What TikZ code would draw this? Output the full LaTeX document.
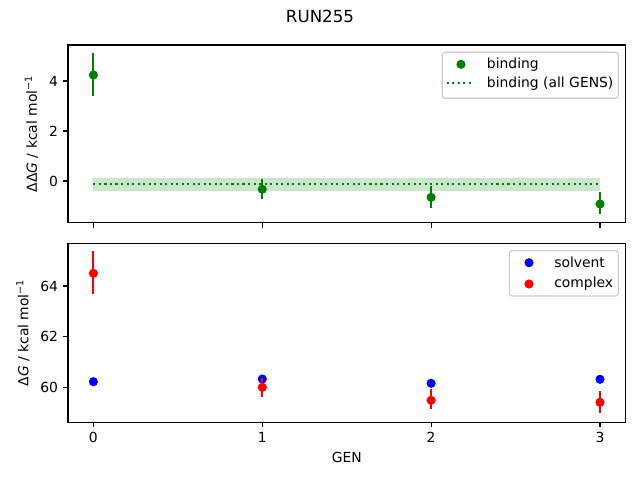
\documentclass[tikz,border=0pt]{standalone}
\usepackage{fontspec}
\setmainfont{DejaVu Sans}
\begin{document}
\begin{tikzpicture}[x=0.72pt,y=-0.72pt,
  axisline/.style={line width=0.8pt,black},
  tickmark/.style={line width=0.8pt,black},
  ticklab/.style={font=\fontsize{10}{12}\selectfont,inner sep=0pt},
  errbar/.style={line width=1.5pt},
  dotmark/.style={circle,inner sep=0pt,minimum size=6.6pt},
  legbox/.style={draw={rgb,255:red,204;green,204;blue,204},line width=0.8pt,fill=white,fill opacity=0.8,rounded corners=2pt},
  labtext/.style={font=\fontsize{10}{12}\selectfont,inner sep=0pt}]
\definecolor{mgreen}{RGB}{0,128,0}
\definecolor{mblue}{RGB}{0,0,255}
\definecolor{mred}{RGB}{255,0,0}
\definecolor{bandgreen}{RGB}{204,230,204}
\useasboundingbox (0,0) rectangle (640,480);
% title
\node[font=\fontsize{12}{14}\selectfont,inner sep=0pt] (title) at (320,16.7) {RUN255};
% ===== top panel =====
\fill[bandgreen] (93.4,178.3) rectangle (600,190.7);
\draw[mgreen,line width=1.5pt,dash pattern=on 1.5pt off 2.475pt] (93.4,184) -- (600,184);
% error bars
\draw[errbar,mgreen] (93.4,53.3) -- (93.4,95.7);
\draw[errbar,mgreen] (262.3,179) -- (262.3,198.7);
\draw[errbar,mgreen] (431.1,186) -- (431.1,207.7);
\draw[errbar,mgreen] (600,192.3) -- (600,214);
\node[dotmark,fill=mgreen] (b0) at (93.4,75) {};
\node[dotmark,fill=mgreen] (b1) at (262.3,189.3) {};
\node[dotmark,fill=mgreen] (b2) at (431.1,197.3) {};
\node[dotmark,fill=mgreen] (b3) at (600,204) {};
% axes frame
\draw[axisline] (68,45) rectangle (625.7,222.7);
% y ticks
\foreach \yy/\lab in {81/4,131/2,181/0}{
  \draw[tickmark] (68,\yy) -- (63.1,\yy);
  \node[ticklab,anchor=east] at (58.3,\yy) {\lab};
}
% x ticks
\foreach \xx in {93.4,262.3,431.1,600}{
  \draw[tickmark] (\xx,222.7) -- (\xx,227.6);
}
% y label
\node[labtext,rotate=90] (ylab1) at (31.5,133.9) {ΔΔ\textit{G} / kcal mol\textsuperscript{−1}};
% legend
\draw[legbox] (442.3,52.3) rectangle (618.3,98.3);
\node[dotmark,fill=mgreen] (lg1) at (461,64.3) {};
\node[labtext,anchor=west] (lt1) at (486.7,64.3) {binding};
\draw[mgreen,line width=1.5pt,dash pattern=on 1.5pt off 2.475pt] (446.7,83.3) -- (474.3,83.3);
\node[labtext,anchor=west] (lt2) at (486.7,83.3) {binding (all GENS)};
% ===== bottom panel =====
\node[dotmark,fill=mblue] (s0) at (93.4,381.7) {};
\node[dotmark,fill=mblue] (s1) at (262.3,379) {};
\node[dotmark,fill=mblue] (s2) at (431.1,383.3) {};
\node[dotmark,fill=mblue] (s3) at (600,379.3) {};
\draw[errbar,mred] (93.4,251) -- (93.4,294.3);
\draw[errbar,mred] (262.3,378.3) -- (262.3,396.7);
\draw[errbar,mred] (431.1,389) -- (431.1,409.3);
\draw[errbar,mred] (600,391) -- (600,413.3);
\node[dotmark,fill=mred] (c0) at (93.4,273.3) {};
\node[dotmark,fill=mred] (c1) at (262.3,387.3) {};
\node[dotmark,fill=mred] (c2) at (431.1,400.3) {};
\node[dotmark,fill=mred] (c3) at (600,402.3) {};
\draw[axisline] (68,243.3) rectangle (625.7,422.3);
\foreach \yy/\lab in {286/64,336.6/62,387.3/60}{
  \draw[tickmark] (68,\yy) -- (63.1,\yy);
  \node[ticklab,anchor=east] at (58.3,\yy) {\lab};
}
\foreach \xx/\lab in {93.4/0,262.3/1,431.1/2,600/3}{
  \draw[tickmark] (\xx,422.3) -- (\xx,427.2);
  \node[ticklab] at (\xx,437.7) {\lab};
}
\node[labtext] (xlab) at (346.8,457.3) {GEN};
\node[labtext,rotate=90] (ylab2) at (23,332.8) {Δ\textit{G} / kcal mol\textsuperscript{−1}};
\draw[legbox] (509.3,250.7) rectangle (618.3,296);
\node[dotmark,fill=mblue] (lg2) at (529,262.7) {};
\node[labtext,anchor=west] (lt3) at (554,262.7) {solvent};
\node[dotmark,fill=mred] (lg3) at (529,284) {};
\node[labtext,anchor=west] (lt4) at (554,284) {complex};
\end{tikzpicture}
\end{document}
